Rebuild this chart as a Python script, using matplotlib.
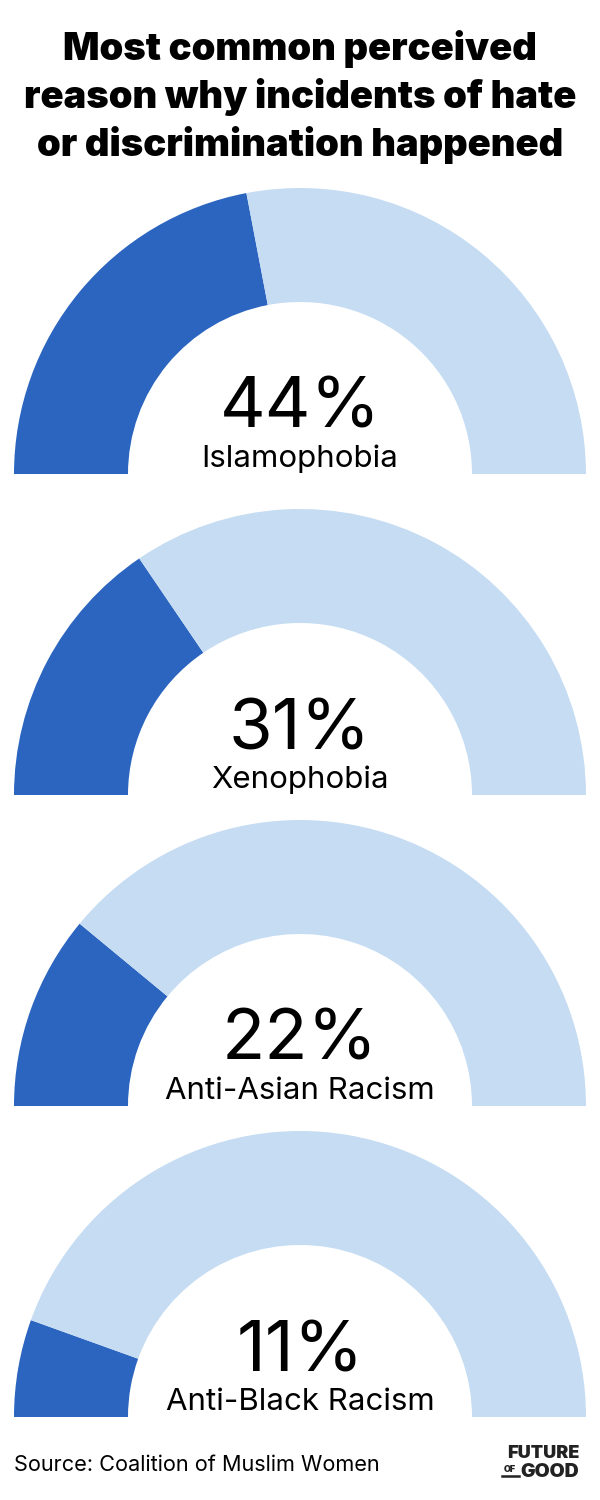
import matplotlib
matplotlib.use("Agg")
import matplotlib.pyplot as plt
from matplotlib.patches import Wedge

# data
reasons = ["Islamophobia", "Xenophobia", "Anti-Asian Racism", "Anti-Black Racism"]
percents = [44, 31, 22, 11]
title = "Most common perceived\nreason why incidents of hate\nor discrimination happened"
source = "Source: Coalition of Muslim Women"

dark_blue = "#2B65C0"
light_blue = "#C5DCF3"

plt.rcParams["font.family"] = ["Inter", "DejaVu Sans"]

fig = plt.figure(figsize=(6, 15), dpi=100)
ax = fig.add_axes([0, 0, 1, 1])
ax.set_xlim(0, 600)
ax.set_ylim(1500, 0)
ax.set_aspect("equal")
ax.axis("off")

ax.text(300, 97, title, ha="center", va="center", fontsize=27.5, fontweight="black",
        linespacing=1.32, color="black")

cx = 300
r_out = 286
r_in = 172
bases = [474, 795, 1106, 1417]

for name, pct, base in zip(reasons, percents, bases):
    split = 180 - pct / 100 * 180
    # y axis is inverted, so angles are mirrored: draw with negative angles
    ax.add_patch(Wedge((cx, base), r_out, -180, -split, width=r_out - r_in,
                       facecolor=dark_blue, edgecolor="none"))
    ax.add_patch(Wedge((cx, base), r_out, -split, 0, width=r_out - r_in,
                       facecolor=light_blue, edgecolor="none"))
    ax.text(cx, base - 46, f"{pct}%", ha="center", va="baseline", fontsize=51,
            color="black")
    ax.text(cx, base - 7, name, ha="center", va="baseline", fontsize=22.5,
            color="black")

ax.text(14, 1471, source, ha="left", va="baseline", fontsize=15.6, color="black")

# logo
ax.text(579, 1458, "FUTURE", ha="right", va="baseline", fontsize=13,
        fontweight="black", color="#222222")
ax.text(510, 1472, "OF", ha="center", va="baseline", fontsize=6.5,
        fontweight="black", color="#222222")
ax.plot([502, 519], [1476, 1476], color="#222222", lw=1.8)
ax.text(579, 1477, "GOOD", ha="right", va="baseline", fontsize=14,
        fontweight="black", color="#222222")

fig.savefig("out.png", dpi=100, facecolor="white")
